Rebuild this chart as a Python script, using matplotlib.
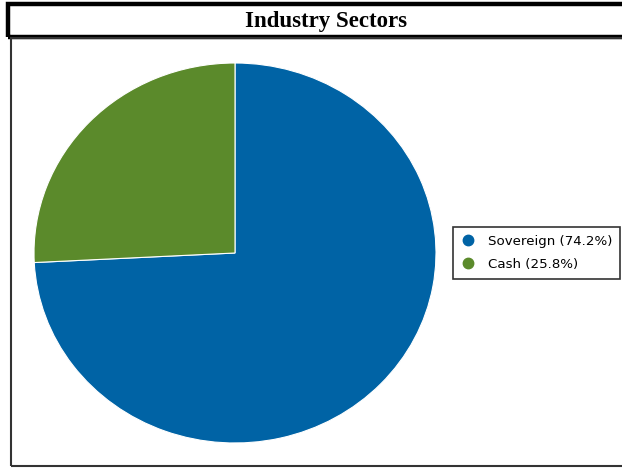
import matplotlib.pyplot as plt
from matplotlib.patches import Rectangle

labels = ['Sovereign', 'Cash']
shares = [74.2, 25.8]
colors = ['#0063a5', '#5b8a2b']
title = 'Industry Sectors'

W, H = 622, 468
fig = plt.figure(figsize=(W / 100, H / 100), dpi=100)

# title bar and plot frame, in pixel-like figure fractions
fig.patches.append(Rectangle((8 / W, 1 - 37 / H), 620 / W, 33 / H, transform=fig.transFigure,
                             fill=False, edgecolor='black', linewidth=3.2))
fig.patches.append(Rectangle((11 / W, 1 - 466 / H), 620 / W, 428 / H, transform=fig.transFigure,
                             fill=False, edgecolor='#333333', linewidth=1.5))
fig.text(326 / W, 1 - 21 / H, title, ha='center', va='center', fontsize=16.5,
         fontweight='bold', family='Liberation Serif')

ax = fig.add_axes([34 / W, 1 - 443 / H, 402 / W, 380 / H])
wedges, _ = ax.pie(shares, colors=colors, startangle=90, counterclock=False,
                   wedgeprops=dict(edgecolor='white', linewidth=0.8))
ax.set_aspect('auto')
ax.set_xlim(-1, 1)
ax.set_ylim(-1, 1)
ax.axis('off')

legend_labels = [f'{l} ({s:.1f}%)' for l, s in zip(labels, shares)]
handles = [plt.Line2D([], [], marker='o', linestyle='none', markersize=7.5,
                      markerfacecolor=c, markeredgecolor=c) for c in colors]
leg = fig.legend(handles, legend_labels, loc='upper left',
                 bbox_to_anchor=(453 / W, 1 - 227 / H), fontsize=9.6,
                 frameon=True, fancybox=False, edgecolor='black',
                 handletextpad=1.0, labelspacing=0.75, borderpad=0.6,
                 handlelength=1.0, borderaxespad=0)
leg.get_frame().set_linewidth(1.2)

fig.savefig('out.png', dpi=100)
